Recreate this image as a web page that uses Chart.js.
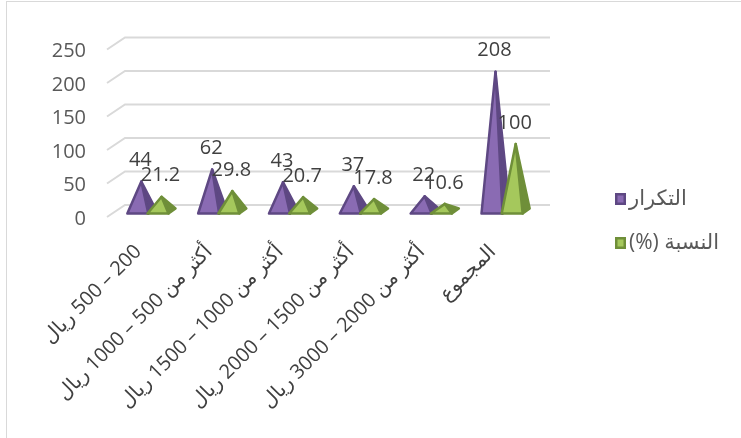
<!DOCTYPE html>
<html>
<head>
<meta charset="utf-8">
<script src="https://cdn.jsdelivr.net/npm/chart.js@4.4.1/dist/chart.umd.min.js"></script>
<style>
  html, body { margin: 0; padding: 0; background: #fff; }
  #wrap { width: 741px; height: 438px; position: relative; }
  canvas { display: block; }
</style>
</head>
<body>
<div id="wrap"><canvas id="chart" width="741" height="438" dir="rtl"></canvas></div>
<script>
const CATEGORIES = [
  "200 – 500 ريال",
  "أكثر من 500 – 1000 ريال",
  "أكثر من 1000 – 1500 ريال",
  "أكثر من 1500 – 2000 ريال",
  "أكثر من 2000 – 3000 ريال",
  "المجموع",
];
const FREQ = [44, 62, 43, 37, 22, 208];
const PCT = [21.2, 29.8, 20.7, 17.8, 10.6, 100];
const Y_TICKS = [0, 50, 100, 150, 200, 250];
const SERIES_NAMES = ["التكرار", "النسبة (%)"];

const FONT = "'Open Sans', 'DejaVu Sans', sans-serif";
const SERIES_COLORS = [
  { light: "#8a6bb3", dark: "#5e4883" },
  { light: "#a5c85c", dark: "#6f8f39" },
];
// 3D look: half the wall depth and half a pyramid's depth (oblique projection)
const WALL = { x: 9, y: 6 };
const DEPTH = { x: 3.5, y: 2.5 };

function drawPyramid(ctx, cx, top, base, half, col) {
  const fl = [cx - half - DEPTH.x, base + DEPTH.y];
  const fr = [cx + half - DEPTH.x, base + DEPTH.y];
  const br = [cx + half + DEPTH.x, base - DEPTH.y];
  const apex = [cx, top];
  ctx.save();
  ctx.lineJoin = "round";
  ctx.lineWidth = 2.5;
  ctx.strokeStyle = col.dark;
  // right face
  ctx.beginPath();
  ctx.moveTo(...fr); ctx.lineTo(...br); ctx.lineTo(...apex); ctx.closePath();
  ctx.fillStyle = col.dark;
  ctx.fill(); ctx.stroke();
  // front face
  ctx.beginPath();
  ctx.moveTo(...fl); ctx.lineTo(...fr); ctx.lineTo(...apex); ctx.closePath();
  ctx.fillStyle = col.light;
  ctx.fill(); ctx.stroke();
  ctx.restore();
}

const pyramidPlugin = {
  id: "pyramids",
  beforeDraw(chart) {
    const ctx = chart.ctx;
    ctx.save();
    ctx.strokeStyle = "#d9d9d9";
    ctx.lineWidth = 1;
    ctx.strokeRect(6.5, 1.5, 760, 460);
    ctx.restore();
  },
  beforeDatasetsDraw(chart) {
    const ctx = chart.ctx;
    const area = chart.chartArea;
    const y = chart.scales.y;
    ctx.save();
    ctx.strokeStyle = "#d9d9d9";
    ctx.lineWidth = 2;
    Y_TICKS.forEach((v) => {
      const py = y.getPixelForValue(v);
      ctx.beginPath();
      ctx.moveTo(area.left - WALL.x, py + WALL.y);
      ctx.lineTo(area.left + WALL.x, py - WALL.y);
      ctx.lineTo(area.right + WALL.x, py - WALL.y);
      ctx.stroke();
    });
    ctx.restore();
  },
  afterDatasetsDraw(chart) {
    const ctx = chart.ctx;
    chart.data.datasets.forEach((ds, di) => {
      chart.getDatasetMeta(di).data.forEach((bar) => {
        drawPyramid(ctx, bar.x, bar.y, bar.base, bar.width * 0.52, SERIES_COLORS[di]);
      });
    });
    ctx.save();
    ctx.font = "20px " + FONT;
    ctx.fillStyle = "#404040";
    ctx.textAlign = "center";
    ctx.textBaseline = "middle";
    chart.data.datasets.forEach((ds, di) => {
      chart.getDatasetMeta(di).data.forEach((bar, i) => {
        ctx.fillText(String(ds.data[i]), bar.x - 1, bar.y - 21);
      });
    });
    ctx.restore();
  },
  afterDraw(chart) {
    const ctx = chart.ctx;
    ctx.save();
    ctx.font = "21px " + FONT;
    ctx.direction = "rtl";
    ctx.textAlign = "left";
    ctx.textBaseline = "middle";
    SERIES_NAMES.forEach((name, i) => {
      const cy = 199 + i * 44;
      const col = SERIES_COLORS[i];
      ctx.fillStyle = col.dark;
      ctx.fillRect(615, cy - 6, 11, 12);
      ctx.fillStyle = col.light;
      ctx.fillRect(617.5, cy - 3.5, 6, 7);
      ctx.fillStyle = "#595959";
      // isolate as right-to-left so "(%)" sits on the left like the original
      ctx.fillText("\u2067" + name + "\u2069", 629, cy);
    });
    ctx.restore();
  },
};

new Chart(document.getElementById("chart"), {
  type: "bar",
  data: {
    labels: CATEGORIES,
    datasets: [
      { label: SERIES_NAMES[0], data: FREQ, backgroundColor: "rgba(0,0,0,0)" },
      { label: SERIES_NAMES[1], data: PCT, backgroundColor: "rgba(0,0,0,0)" },
    ],
  },
  options: {
    responsive: false,
    animation: false,
    devicePixelRatio: 1,
    layout: { padding: { left: 0, right: 200, top: 43.5, bottom: 0 } },
    datasets: { bar: { categoryPercentage: 0.57, barPercentage: 1 } },
    plugins: { legend: { display: false }, tooltip: { enabled: false } },
    scales: {
      x: {
        grid: { display: false, drawTicks: false },
        border: { display: false },
        ticks: {
          autoSkip: false,
          minRotation: 45,
          maxRotation: 45,
          padding: 29,
          labelOffset: -13,
          color: "#404040",
          font: { family: FONT, size: 20 },
        },
        afterFit: (s) => { s.height = 227; s.paddingLeft = 0; s.paddingRight = 0; },
      },
      y: {
        min: 0,
        max: 250,
        grid: { display: false, drawTicks: false },
        border: { display: false },
        ticks: {
          stepSize: 50,
          padding: 30,
          labelOffset: 8,
          color: "#595959",
          font: { family: FONT, size: 20 },
        },
        afterFit: (s) => { s.width = 116; },
      },
    },
  },
  plugins: [pyramidPlugin],
});
</script>
</body>
</html>
